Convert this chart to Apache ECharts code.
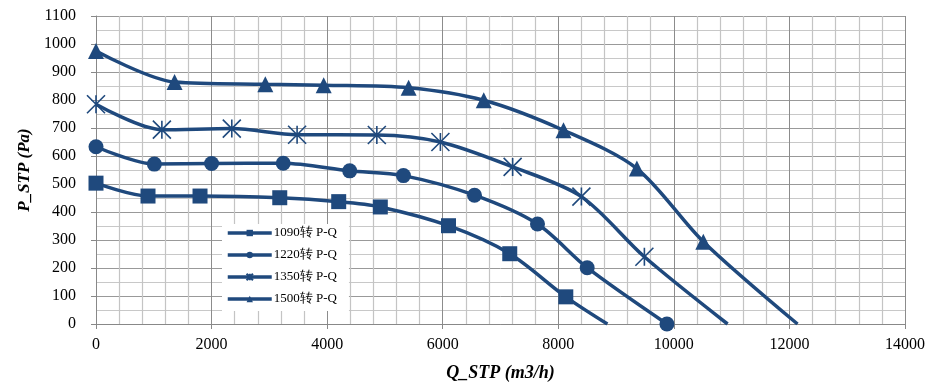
<!DOCTYPE html>
<html>
<head>
<meta charset="utf-8">
<script src="https://cdn.jsdelivr.net/npm/echarts@6/dist/echarts.min.js"></script>
<style>html,body{margin:0;padding:0;background:#fff}#c{width:946px;height:384px}</style>
</head>
<body>
<div id="c"></div>
<script>
// Series names
const seriesNames = ['1090转 P-Q', '1220转 P-Q', '1350转 P-Q', '1500转 P-Q'];
// Q (m3/h) values per series; last point of some series has no marker
const q1090 = [0, 900, 1800, 3180, 4200, 4920, 6100, 7160, 8130, 8850];
const p1090 = [503, 457, 457, 451, 437, 418, 351, 251, 97, 0];
const q1220 = [0, 1010, 2000, 3240, 4390, 5320, 6550, 7640, 8500, 9880];
const p1220 = [633, 571, 573, 574, 547, 530, 460, 357, 201, 0];
const q1350 = [0, 1140, 2350, 3480, 4860, 5960, 7210, 8400, 9490, 10930];
const p1350 = [785, 694, 698, 676, 675, 650, 561, 455, 240, 0];
const q1500 = [0, 1360, 2930, 3940, 5410, 6710, 8090, 9360, 10510, 12140];
const p1500 = [975, 864, 856, 853, 844, 799, 692, 555, 294, 0];
// which trailing points carry no marker
const noMarkerLast = [true, false, true, true];
// Axis ticks
const xTicks = [0, 2000, 4000, 6000, 8000, 10000, 12000, 14000];
const yTicks = [0, 100, 200, 300, 400, 500, 600, 700, 800, 900, 1000, 1100];

const COLOR = '#1f497d';
const FONT = 'Liberation Serif';
const starPath = 'path://M0,0L20,20M20,0L0,20M10,0L10,20';
const symbols = ['rect', 'circle', starPath, 'triangle'];
const sizes = [15, 15, 18, 16];

function build(qs, ps, noLast) {
  return qs.map((q, i) => {
    const item = { value: [q, ps[i]] };
    if (noLast && i === qs.length - 1) item.symbol = 'none';
    return item;
  });
}
const all = [[q1090, p1090], [q1220, p1220], [q1350, p1350], [q1500, p1500]];

const series = all.map((d, k) => ({
  name: seriesNames[k],
  type: 'line',
  smooth: 0.3,
  data: build(d[0], d[1], noMarkerLast[k]),
  symbol: symbols[k],
  symbolSize: sizes[k],
  showAllSymbol: true,
  lineStyle: { color: COLOR, width: 3.5 },
  itemStyle: k === 2
    ? { color: 'rgba(0,0,0,0)', borderColor: COLOR, borderWidth: 1.6 }
    : { color: COLOR, borderWidth: 0 },
  emphasis: { disabled: true },
  animation: false,
  z: 3
}));

const plain = v => String(v);

const chart = echarts.init(document.getElementById('c'), null, { renderer: 'canvas' });
chart.setOption({
  animation: false,
  backgroundColor: '#fff',
  grid: { left: 96, right: 41, top: 16, bottom: 60, containLabel: false, outerBoundsMode: 'none' },
  xAxis: {
    type: 'value',
    min: xTicks[0], max: xTicks[xTicks.length - 1], interval: 2000,
    name: 'Q_STP (m3/h)',
    nameLocation: 'middle',
    nameGap: 40,
    nameTextStyle: { fontFamily: FONT, fontSize: 18, fontWeight: 'bold', fontStyle: 'italic', color: '#000' },
    axisLine: { show: true, lineStyle: { color: '#888', width: 1 } },
    axisTick: { show: true, length: 5, lineStyle: { color: '#888' } },
    axisLabel: { fontFamily: FONT, fontSize: 16, color: '#000', margin: 13, formatter: plain },
    splitLine: { show: true, lineStyle: { color: '#8c8c8c', width: 1 } },
    minorTick: { show: true, splitNumber: 5, length: 0 },
    minorSplitLine: { show: true, lineStyle: { color: '#c4c4c4', width: 1.2 } }
  },
  yAxis: {
    type: 'value',
    min: yTicks[0], max: yTicks[yTicks.length - 1], interval: 100,
    name: 'P_STP (Pa)',
    nameLocation: 'middle',
    nameGap: 52,
    nameRotate: 90,
    nameTextStyle: { fontFamily: FONT, fontSize: 17, fontWeight: 'bold', fontStyle: 'italic', color: '#000' },
    axisLine: { show: true, lineStyle: { color: '#888', width: 1 } },
    axisTick: { show: true, length: 5, lineStyle: { color: '#888' } },
    axisLabel: { fontFamily: FONT, fontSize: 16, color: '#000', margin: 20, formatter: plain },
    splitLine: { show: true, lineStyle: { color: '#999', width: 1 } },
    minorTick: { show: true, splitNumber: 2, length: 0 },
    minorSplitLine: { show: true, lineStyle: { color: '#c8c8c8', width: 1.2 } }
  },
  legend: {
    orient: 'vertical',
    left: 222, top: 224,
    padding: [2, 12, 5, 4],
    backgroundColor: '#fff',
    itemWidth: 44, itemHeight: 8, itemGap: 8,
    lineStyle: { width: 3.5 },
    textStyle: { fontFamily: FONT, fontSize: 13, color: '#000', lineHeight: 14, padding: [0, 0, 0, -3] },
    data: seriesNames
  },
  series: series
});
</script>
</body>
</html>
